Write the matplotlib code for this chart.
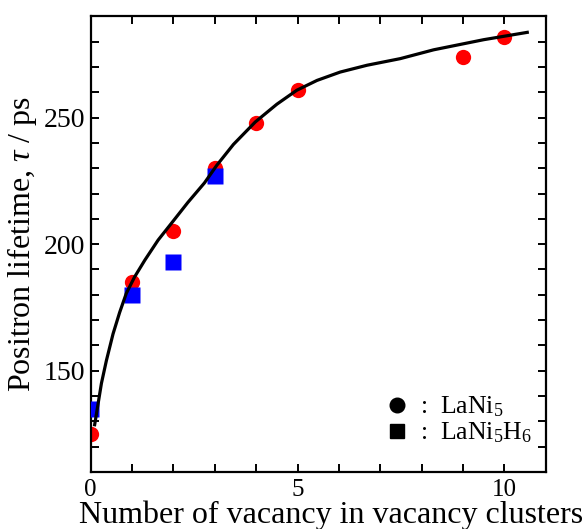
import numpy as np
import matplotlib
matplotlib.use("Agg")
import matplotlib.pyplot as plt
from matplotlib.lines import Line2D
from matplotlib.ticker import MultipleLocator

plt.rcParams['font.family'] = ['Liberation Serif', 'DejaVu Serif']
plt.rcParams['mathtext.fontset'] = 'custom'
plt.rcParams['mathtext.rm'] = 'Liberation Serif'
plt.rcParams['mathtext.it'] = 'Liberation Serif:italic'

# LaNi5 : positron lifetime vs. cluster size
n_lani5 = [0, 1, 2, 3, 4, 5, 9, 10]
tau_lani5 = [125, 185, 205, 230, 248, 261, 274, 282]

# LaNi5H6
n_hydride = [0, 1, 2, 3]
tau_hydride = [135, 180, 193, 227]

# guide curve through the calculated values
curve_n = [0.09, 0.14, 0.26, 0.38, 0.54, 0.70, 0.86, 1.06, 1.31, 1.63,
           1.95, 2.35, 2.75, 3.05, 3.45, 3.98, 4.5, 4.98, 5.47, 6.03,
           6.68, 7.48, 8.29, 9.5, 10.59]
curve_tau = [128, 133, 145, 154, 164.5, 173, 180.5, 187, 193.7, 201.6,
             208.2, 216.5, 224.2, 231.2, 239.4, 248.3, 255.3, 260.8, 264.7, 268.0,
             270.7, 273.3, 276.8, 280.8, 283.8]

fig = plt.figure(figsize=(5.85, 5.29), dpi=100)
ax = fig.add_axes([0.155, 0.108, 0.778, 0.861])

ax.plot(n_lani5, tau_lani5, 'o', color='#ff0000', ms=11, mec='none', zorder=2)
ax.plot(n_hydride, tau_hydride, 's', color='#0000ff', ms=11.5, mec='none', zorder=3)
ax.plot(curve_n, curve_tau, '-', color='black', lw=2.3, zorder=4,
        solid_joinstyle='round', solid_capstyle='butt')

ax.set_xlim(0, 11)
ax.set_ylim(110, 290)
ax.xaxis.set_major_locator(MultipleLocator(5))
ax.xaxis.set_minor_locator(MultipleLocator(1))
ax.yaxis.set_major_locator(MultipleLocator(50))
ax.yaxis.set_minor_locator(MultipleLocator(10))
ax.tick_params(which='both', direction='in', top=True, right=True,
               length=6, width=1.4)
ax.tick_params(axis='x', labelsize=18, pad=5)
ax.tick_params(axis='y', labelsize=20, pad=4)
for s in ax.spines.values():
    s.set_linewidth(1.6)

ax.set_xlabel('Number of vacancy in vacancy clusters', fontsize=23,
              labelpad=-0.5, x=0.528)
ax.set_ylabel(r'Positron lifetime, $\tau$ / ps', fontsize=23, labelpad=3)

handles = [Line2D([], [], ls='none', marker='o', color='black', ms=10.5),
           Line2D([], [], ls='none', marker='s', color='black', ms=10.5)]
labels = [r':  LaNi$_5$', r':  LaNi$_5$H$_6$']
ax.legend(handles, labels, loc='lower left', bbox_to_anchor=(0.593, 0.008),
          frameon=False, fontsize=18.5, handlelength=1.0, handletextpad=0.4,
          labelspacing=0.05)

fig.savefig('out.png', dpi=100)
